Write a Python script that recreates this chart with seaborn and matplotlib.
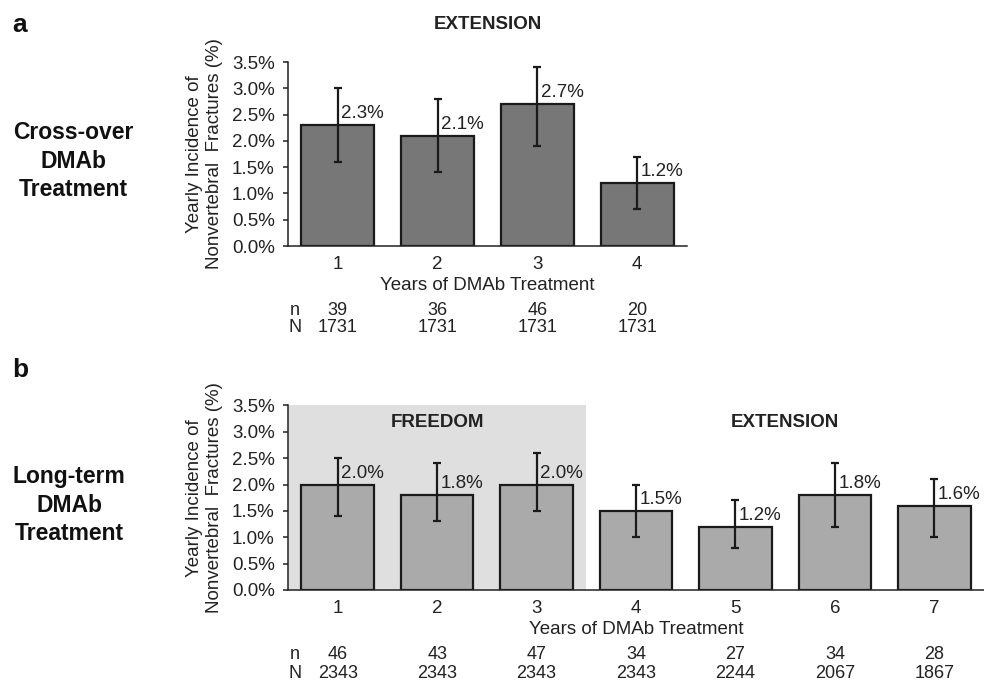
import matplotlib
matplotlib.use("Agg")
import matplotlib.pyplot as plt
import matplotlib.transforms as mtransforms
import seaborn as sns

# ---------- data ----------
years_a = ["1", "2", "3", "4"]
rate_a = [2.3, 2.1, 2.7, 1.2]
low_a = [1.6, 1.4, 1.9, 0.7]
high_a = [3.0, 2.8, 3.4, 1.7]
n_a = [39, 36, 46, 20]
N_a = [1731, 1731, 1731, 1731]

years_b = ["1", "2", "3", "4", "5", "6", "7"]
rate_b = [2.0, 1.8, 2.0, 1.5, 1.2, 1.8, 1.6]
low_b = [1.4, 1.3, 1.5, 1.0, 0.8, 1.2, 1.0]
high_b = [2.5, 2.4, 2.6, 2.0, 1.7, 2.4, 2.1]
n_b = [46, 43, 47, 34, 27, 34, 28]
N_b = [2343, 2343, 2343, 2343, 2244, 2067, 1867]

yticks = [0.0, 0.5, 1.0, 1.5, 2.0, 2.5, 3.0, 3.5]

# ---------- style ----------
sns.set_style("white")
plt.rcParams["font.family"] = ["Liberation Sans", "DejaVu Sans"]
FS = 13.5
DARK = "#1a1a1a"


def draw_panel(ax, years, rate, low, high, n, N, color, nrow_y):
    sns.barplot(x=years, y=rate, color=color, saturation=1, width=0.73,
                edgecolor=DARK, linewidth=1.6, errorbar=None, ax=ax, zorder=2)
    pos = list(range(len(years)))
    yerr = [[r - lo for r, lo in zip(rate, low)], [hi - r for r, hi in zip(rate, high)]]
    ax.errorbar(pos, rate, yerr=yerr, fmt="none", ecolor=DARK, elinewidth=1.6,
                capsize=3, capthick=1.6, zorder=3)
    for p, r in zip(pos, rate):
        ax.text(p + 0.035, r + 0.05, f"{r:.1f}%", ha="left", va="bottom",
                fontsize=FS, color="#222222", zorder=4)

    ax.set_ylim(0, 3.5)
    ax.set_xlim(-0.5, len(years) - 0.5)
    ax.set_yticks(yticks)
    ax.set_yticklabels([f"{v:.1f}%" for v in yticks])
    ax.tick_params(axis="y", length=3.6, width=1.1, pad=6, labelsize=FS,
                   colors="#222222", left=True)
    ax.tick_params(axis="x", length=0, pad=7.5, labelsize=FS, colors="#222222")
    ax.set_xlabel("Years of DMAb Treatment", fontsize=FS, labelpad=2.5, color="#222222")
    ax.set_ylabel("Yearly Incidence of\nNonvertebral  Fractures (%)", fontsize=FS,
                  labelpad=6, color="#222222", linespacing=1.3)
    for side in ["top", "right"]:
        ax.spines[side].set_visible(False)
    for side in ["left", "bottom"]:
        ax.spines[side].set_color("#222222")
        ax.spines[side].set_linewidth(1.1)

    # n / N rows under the axis
    trans = mtransforms.blended_transform_factory(ax.transData, ax.figure.transFigure)
    fig.text(0.2998, nrow_y[0], "n", ha="center", va="center", fontsize=13, color="#222222")
    fig.text(0.2998, nrow_y[1], "N", ha="center", va="center", fontsize=13, color="#222222")
    for p, a, b in zip(pos, n, N):
        ax.text(p, nrow_y[0], str(a), transform=trans, ha="center", va="center",
                fontsize=13, color="#222222")
        ax.text(p, nrow_y[1], str(b), transform=trans, ha="center", va="center",
                fontsize=13, color="#222222")


fig = plt.figure(figsize=(9.84, 6.83), dpi=100)
ax_a = fig.add_axes([0.2927, 0.6398, 0.4055, 0.2694])
ax_b = fig.add_axes([0.2927, 0.1362, 0.7073, 0.2701])

# panel b background for FREEDOM years
ax_b.axvspan(-0.5, 2.5, color="#dfdfdf", zorder=0, lw=0)

draw_panel(ax_a, years_a, rate_a, low_a, high_a, n_a, N_a, "#777777", (0.5461, 0.5198))
draw_panel(ax_b, years_b, rate_b, low_b, high_b, n_b, N_b, "#aaaaaa", (0.0410, 0.0146))

ax_a.set_title("EXTENSION", fontsize=FS, fontweight="bold", pad=24, color="#222222")
ax_b.text(1, 3.18, "FREEDOM", ha="center", va="center", fontsize=FS,
          fontweight="bold", color="#222222")
ax_b.text(4.5, 3.18, "EXTENSION", ha="center", va="center", fontsize=FS,
          fontweight="bold", color="#222222")

# panel letters and row labels
fig.text(0.012, 1 - 25 / 683, "a", ha="left", va="center", fontsize=19,
         fontweight="bold", color="#111111")
fig.text(0.012, 1 - 370 / 683, "b", ha="left", va="center", fontsize=19,
         fontweight="bold", color="#111111")
fig.text(73 / 984, 1 - 161 / 683, "Cross-over\nDMAb\nTreatment", ha="center",
         va="center", fontsize=16.5, fontweight="bold", linespacing=1.3, color="#111111")
fig.text(69 / 984, 1 - 505 / 683, "Long-term\nDMAb\nTreatment", ha="center",
         va="center", fontsize=16.5, fontweight="bold", linespacing=1.3, color="#111111")

fig.savefig("out.png", dpi=100)
